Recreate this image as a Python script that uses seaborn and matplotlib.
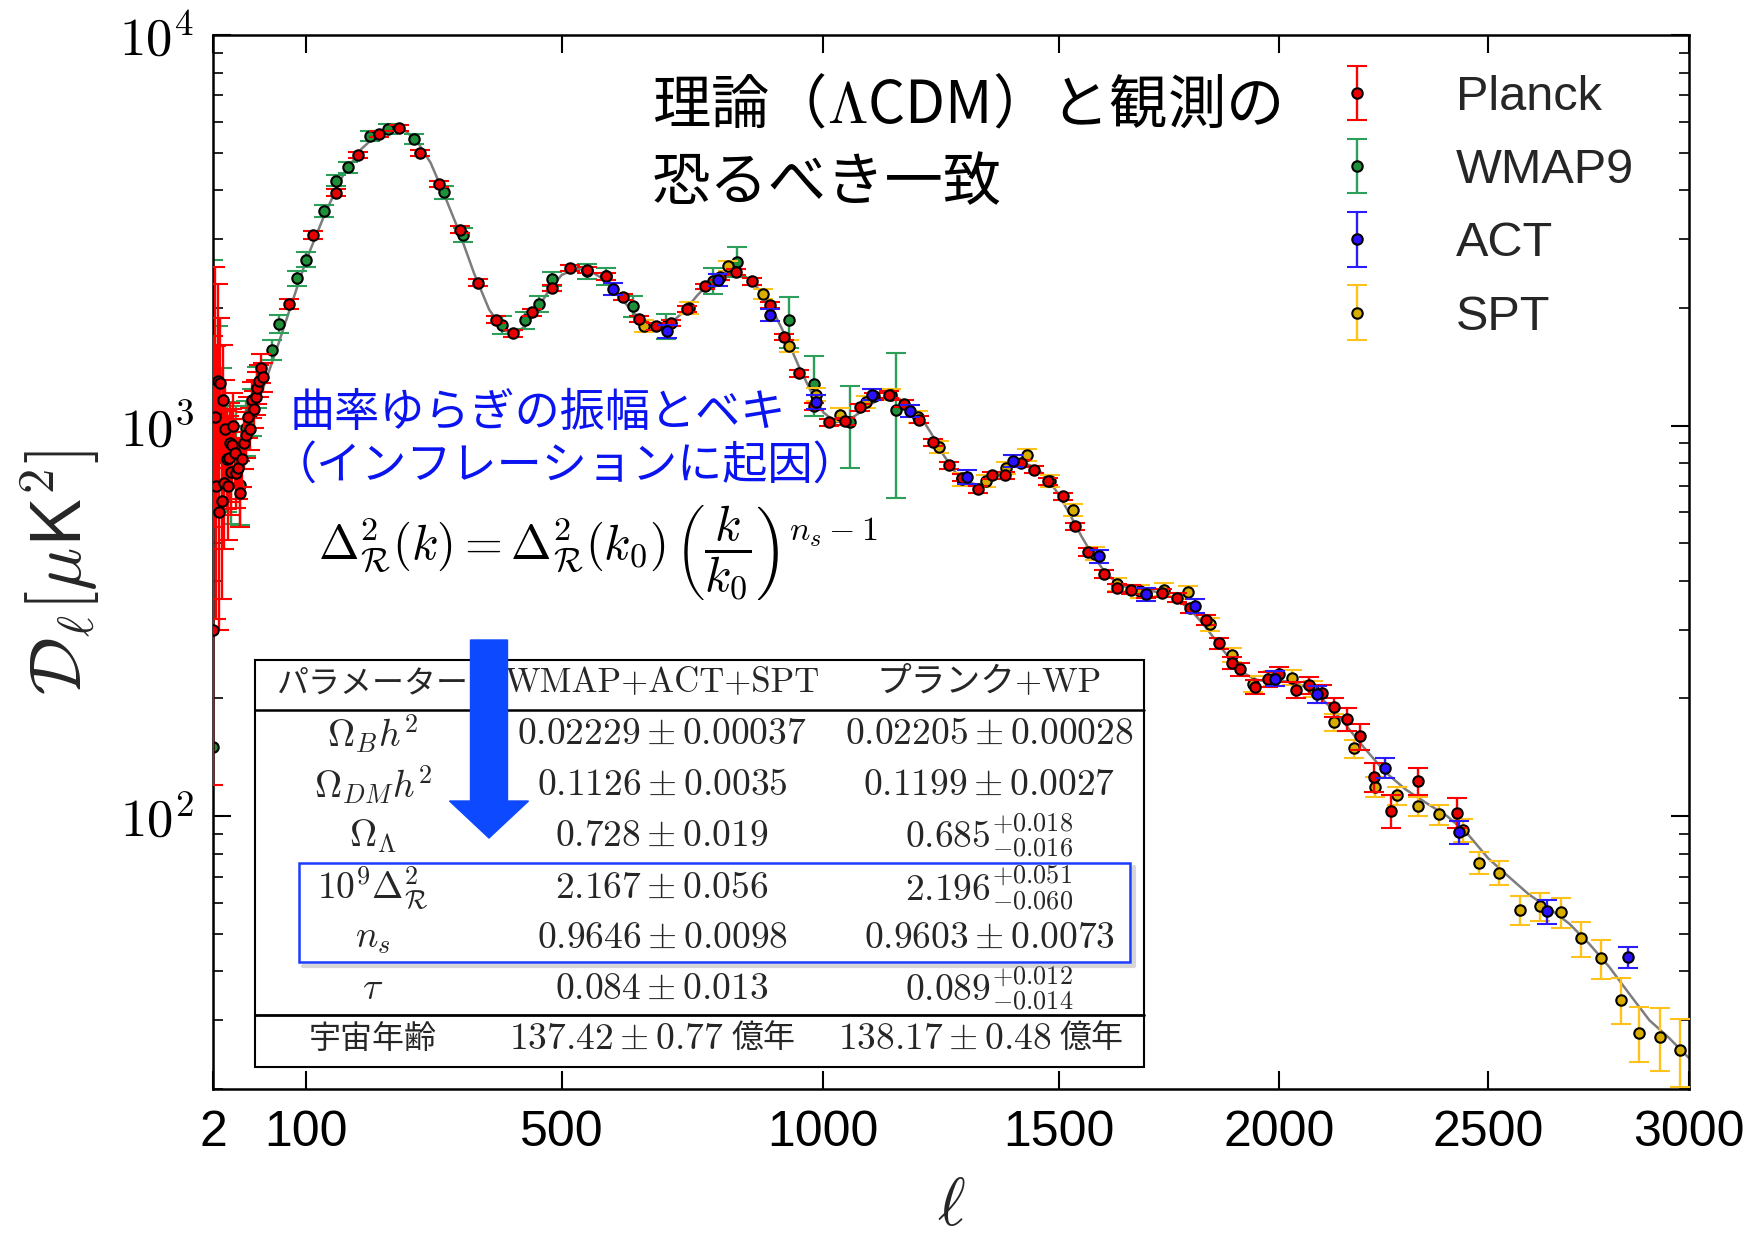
import numpy as np
import matplotlib
matplotlib.use("Agg")
import matplotlib.pyplot as plt
import seaborn as sns
from matplotlib import patches
from matplotlib.container import ErrorbarContainer
from matplotlib.legend_handler import HandlerErrorbar
from matplotlib.ticker import FixedLocator, NullLocator, NullFormatter, LogLocator

# ---------------- data ----------------
# Planck, unbinned low multipoles (asymmetric errors)
PLANCK_LOWL_L = [2, 3, 4, 5, 6, 7, 8, 9, 10, 11, 12, 13, 14, 15, 16, 17, 18, 19, 20,
                 22, 24, 26, 28, 30, 32, 34, 36, 38, 40, 42, 44, 46, 48]
PLANCK_LOWL_D = [300, 1050, 700, 1300, 600, 1285, 640, 1160, 713, 980, 820, 700, 826, 900,
                 760, 893, 1000, 850, 755, 780, 671, 820, 900, 946, 1050, 980, 1164, 1100,
                 1180, 1250, 1300, 1403, 1330]
PLANCK_LOWL_ELO = [180, 500, 380, 600, 300, 480, 280, 380, 230, 280, 210, 190, 190, 200,
                   170, 180, 180, 160, 140, 130, 120, 125, 125, 120, 120, 115, 120, 115,
                   115, 115, 115, 120, 110]
PLANCK_LOWL_EHI = [1400, 1500, 900, 1000, 500, 600, 400, 450, 330, 330, 270, 230, 230, 240,
                   200, 210, 210, 190, 165, 150, 140, 140, 140, 135, 135, 130, 130, 125,
                   125, 125, 125, 125, 120]

# Planck, binned
PLANCK_L = [78, 109, 139, 170, 201, 231, 263, 293, 327, 357, 387, 416, 448, 483, 514, 545,
            580, 611, 641, 672, 700, 731, 765, 795, 826, 857, 893, 920, 950, 980, 1011,
            1045, 1075, 1103, 1135, 1166, 1197, 1228, 1261, 1289, 1323, 1354, 1383, 1416,
            1446, 1477, 1509, 1535, 1565, 1600, 1630, 1660, 1695, 1730, 1765, 1795, 1830,
            1860, 1890, 1910, 1945, 1975, 2000, 2040, 2070, 2100, 2130, 2160, 2190, 2225,
            2265, 2330, 2425]
PLANCK_D = [2047, 3076, 3945, 4931, 5580, 5780, 5000, 4160, 3170, 2323, 1866, 1722, 1950,
            2249, 2530, 2500, 2410, 2133, 1872, 1795, 1828, 1986, 2270, 2400, 2478, 2338,
            2037, 1683, 1362, 1119, 1019, 1026, 1114, 1188, 1200, 1138, 1035, 906, 791,
            735, 686, 745, 745, 801, 771, 720, 659, 552, 474, 416, 384, 380, 371, 373, 362,
            340, 318, 277, 247, 238, 214, 224, 231, 210, 216, 206, 190, 177, 160, 126, 103,
            123, 102]
PLANCK_ERR = [60, 70, 80, 90, 100, 100, 90, 80, 65, 50, 40, 35, 38, 42, 45, 45, 45, 40, 36,
              34, 34, 36, 40, 42, 44, 42, 38, 32, 27, 23, 21, 21, 22, 23, 23, 22, 20, 18,
              16, 15, 14, 15, 15, 16, 16, 15, 14, 12, 11, 10, 9.5, 9.5, 9.5, 9.5, 9.5, 9.5,
              9.5, 9, 9, 9, 9, 9.5, 10, 10, 10.5, 11, 11, 12, 12, 11, 10, 9.5, 9]

# WMAP9
WMAP_LOWL_L = [2, 5, 8, 12, 16, 20, 24, 30, 36, 42]
WMAP_LOWL_D = [150, 1100, 950, 850, 760, 900, 706, 986, 1080, 1250]
WMAP_LOWL_ELO = [135, 500, 350, 250, 200, 190, 150, 150, 140, 140]
WMAP_LOWL_EHI = [2500, 700, 450, 300, 240, 220, 170, 170, 160, 160]

WMAP_L = [58, 67, 88, 100, 124, 140, 156, 188, 214, 254, 301, 332, 397, 435, 460, 483,
          545, 580, 630, 690, 780, 827, 931, 980, 1055, 1150]
WMAP_D = [1563, 1824, 2384, 2661, 3540, 4240, 4583, 5520, 5742, 5420, 3963, 3078, 1807,
          1858, 2050, 2370, 2480, 2410, 2020, 1800, 2350, 2630, 1858, 1280, 1020, 1094]
WMAP_ERR = [90, 100, 110, 120, 130, 140, 150, 160, 170, 170, 150, 130, 95, 90, 95, 100,
            110, 120, 120, 130, 180, 230, 280, 225, 243, 441]

# ACT
ACT_L = [593, 692, 791, 893, 985, 1100, 1180, 1300, 1400, 1590, 1695, 1805, 1990, 2090,
         2250, 2430, 2644, 2847]
ACT_D = [2235, 1742, 2360, 1919, 1150, 1200, 1090, 740, 810, 463, 370, 345, 225, 205, 133,
         91, 57, 43.5]
ACT_ERR = [80, 70, 80, 70, 45, 40, 38, 30, 28, 18, 14, 14, 10, 10, 8, 6, 4, 2.8]

# SPT
SPT_L = [650, 735, 810, 878, 930, 985, 1033, 1088, 1140, 1196, 1240, 1290, 1340, 1385,
         1430, 1480, 1530, 1580, 1630, 1680, 1735, 1790, 1840, 1890, 1940, 1985, 2030,
         2080, 2130, 2178, 2228, 2280, 2330, 2380, 2440, 2478, 2527, 2578, 2628, 2679,
         2729, 2779, 2829, 2874, 2926, 2977]
SPT_D = [1800, 2000, 2560, 2173, 1596, 1200, 1067, 1150, 1200, 1050, 880, 730, 720, 780,
         841, 720, 607, 470, 392, 376, 380, 374, 310, 259, 218, 225, 226, 212, 174, 149,
         119, 113, 106, 101, 92, 76, 71.5, 57.5, 58.7, 56.7, 48.6, 43.2, 33.9, 27.9, 27.2,
         25.2]
SPT_ERR = [60, 70, 80, 70, 55, 45, 40, 40, 40, 38, 32, 28, 25, 27, 28, 25, 22, 18, 16, 14,
           14, 14, 12, 11, 10, 10, 10, 10, 9, 8, 7, 6, 6, 6, 6, 5, 5, 5, 5, 5, 5, 5, 4.5,
           4.5, 5, 5]

# best-fit LambdaCDM spectrum
THEORY_L = [2, 4, 7, 10, 15, 20, 30, 40, 50, 65, 80, 100, 125, 150, 175, 200, 220, 240,
            260, 280, 300, 325, 350, 375, 400, 420, 440, 460, 480, 500, 525, 550, 575, 600,
            625, 650, 675, 700, 725, 750, 775, 800, 825, 850, 875, 900, 925, 950, 975, 1000,
            1025, 1050, 1075, 1100, 1125, 1150, 1175, 1200, 1225, 1250, 1275, 1300, 1325,
            1350, 1375, 1400, 1425, 1450, 1475, 1500, 1525, 1550, 1575, 1600, 1625, 1650,
            1675, 1700, 1725, 1750, 1775, 1800, 1825, 1850, 1875, 1900, 1925, 1950, 1975,
            2000, 2025, 2050, 2075, 2100, 2125, 2150, 2175, 2200, 2250, 2300, 2350, 2400,
            2450, 2500, 2550, 2600, 2650, 2700, 2750, 2800, 2850, 2900, 2950, 3000]
THEORY_D = [1050, 900, 820, 790, 800, 840, 950, 1100, 1280, 1600, 2000, 2650, 3500, 4400,
            5100, 5600, 5780, 5700, 5300, 4700, 3950, 3150, 2450, 1980, 1750, 1720, 1820,
            2020, 2250, 2430, 2520, 2490, 2370, 2180, 1980, 1830, 1780, 1830, 1960, 2150,
            2330, 2450, 2470, 2380, 2200, 1950, 1680, 1420, 1220, 1080, 1020, 1030, 1080,
            1140, 1180, 1180, 1140, 1060, 950, 840, 760, 715, 705, 725, 760, 790, 800, 780,
            730, 665, 590, 520, 465, 425, 398, 385, 380, 378, 374, 366, 352, 333, 310, 285,
            262, 243, 230, 223, 221, 222, 221, 217, 210, 200, 188, 175, 162, 150, 130, 117,
            108, 100, 90, 78, 70, 63, 58, 53, 47, 41, 35, 30, 27, 24]

XTICKS = [2, 100, 500, 1000, 1500, 2000, 2500, 3000]
XTICK_LABELS = ["2", "100", "500", "1000", "1500", "2000", "2500", "3000"]
YTICKS = [100, 1000, 10000]
YTICK_LABELS = [r"$10^{2}$", r"$10^{3}$", r"$10^{4}$"]
LEGEND_LABELS = ["Planck", "WMAP9", "ACT", "SPT"]

TITLE_LINES = ["理論（$\\Lambda$CDM）と観測の", "恐るべき一致"]
NOTE_LINES = ["曲率ゆらぎの振幅とベキ", "（インフレーションに起因）"]
FORMULA = (r"$\Delta^2_{\mathcal{R}}(k) = \Delta^2_{\mathcal{R}}(k_0)\,"
           r"\left(\dfrac{k}{k_0}\right)^{n_s-1}$")

TABLE_HEAD = ["パラメーター", "WMAP+ACT+SPT", "プランク+WP"]
TABLE_PARAMS = [r"$\Omega_B h^2$", r"$\Omega_{DM} h^2$", r"$\Omega_\Lambda$",
                r"$10^9\Delta^2_{\mathcal{R}}$", r"$n_s$", r"$\tau$"]
TABLE_WMAP = [r"$0.02229 \pm 0.00037$", r"$0.1126 \pm 0.0035$", r"$0.728 \pm 0.019$",
              r"$2.167 \pm 0.056$", r"$0.9646 \pm 0.0098$", r"$0.084 \pm 0.013$"]
TABLE_PLANCK = [r"$0.02205 \pm 0.00028$", r"$0.1199 \pm 0.0027$",
                r"$0.685^{+0.018}_{-0.016}$", r"$2.196^{+0.051}_{-0.060}$",
                r"$0.9603 \pm 0.0073$", r"$0.089^{+0.012}_{-0.014}$"]
AGE_LABEL = "宇宙年齢"
AGE_WMAP = r"$137.42 \pm 0.77$"
AGE_PLANCK = r"$138.17 \pm 0.48$"
AGE_UNIT = "億年"

# ---------------- style ----------------
sns.set_theme(style="ticks")
plt.rcParams["font.family"] = ["DejaVu Sans", "Noto Sans CJK JP"]
plt.rcParams["mathtext.fontset"] = "cm"

W, H = 1762, 1239
fig = plt.figure(figsize=(W / 100, H / 100), dpi=100)
fig.patch.set_facecolor("white")
ax = fig.add_axes([213 / W, 150 / H, 1476 / W, 1054 / H])
ax.set_facecolor("white")

sns.lineplot(x=THEORY_L, y=THEORY_D, ax=ax, color="#7d7d7d", linewidth=1.8,
             zorder=1, legend=False)

common = dict(fmt="o", ms=7.5, mec="black", mew=1.5, elinewidth=1.7, capsize=7.5,
              capthick=1.7)

ax.errorbar(WMAP_LOWL_L, WMAP_LOWL_D, yerr=[WMAP_LOWL_ELO, WMAP_LOWL_EHI],
            mfc="#1f8f3a", ecolor="#2ca05a", zorder=2, **common)
h_wmap = ax.errorbar(WMAP_L, WMAP_D, yerr=WMAP_ERR, mfc="#1f8f3a", ecolor="#2ca05a",
                     zorder=2, **common)
h_spt = ax.errorbar(SPT_L, SPT_D, yerr=SPT_ERR, mfc="#d9ad00", ecolor="#ffc21a",
                    zorder=3, **common)
ax.errorbar(PLANCK_LOWL_L, PLANCK_LOWL_D, yerr=[PLANCK_LOWL_ELO, PLANCK_LOWL_EHI],
            mfc="#e80000", ecolor="#ff0000", zorder=4, **common)
h_planck = ax.errorbar(PLANCK_L, PLANCK_D, yerr=PLANCK_ERR, mfc="#e80000",
                       ecolor="#ff0000", zorder=4, **common)
h_act = ax.errorbar(ACT_L, ACT_D, yerr=ACT_ERR, mfc="#2a10ff", ecolor="#2b1bff",
                    zorder=5, **common)

# multipole axis: power-law stretched, D_l axis: logarithmic
ax.set_xscale("function", functions=(lambda x: np.sign(x) * np.abs(x) ** 0.8,
                                     lambda y: np.sign(y) * np.abs(y) ** 1.25))
ax.set_yscale("log")
ax.set_xlim(2, 3000)
ax.set_ylim(20, 1e4)

ax.xaxis.set_major_locator(FixedLocator(XTICKS))
ax.xaxis.set_minor_locator(NullLocator())
ax.set_xticklabels(XTICK_LABELS, fontfamily="Liberation Sans", fontsize=36)
ax.yaxis.set_major_locator(FixedLocator(YTICKS))
ax.set_yticklabels(YTICK_LABELS, fontsize=38)
ax.yaxis.set_minor_locator(LogLocator(base=10, subs=np.arange(2, 10), numticks=30))
ax.yaxis.set_minor_formatter(NullFormatter())

ax.tick_params(which="major", direction="in", length=13, width=1.5, top=True,
               right=True, colors="black")
ax.tick_params(axis="x", which="major", pad=15)
ax.tick_params(axis="y", which="major", pad=14)
ax.tick_params(which="minor", direction="in", length=7, width=1.2, right=True,
               colors="black")
for sp in ax.spines.values():
    sp.set_linewidth(1.8)
    sp.set_color("black")

ax.set_xlabel(r"$\ell$", fontsize=48)
ax.xaxis.set_label_coords(0.5, -0.08)
ax.set_ylabel(r"$\mathcal{D}_\ell[\mu\mathsf{K}^2]$", fontsize=52)
ax.yaxis.set_label_coords(-0.075, 0.49)

ax.legend([h_planck, h_wmap, h_act, h_spt], LEGEND_LABELS, loc="upper left",
          bbox_to_anchor=(0.755, 0.962), frameon=False,
          prop={"family": "Liberation Sans", "size": 35}, handlelength=1.2,
          handletextpad=1.45, labelspacing=0.58, borderpad=0, borderaxespad=0,
          numpoints=1,
          handler_map={ErrorbarContainer: HandlerErrorbar(xerr_size=0.5,
                                                          yerr_size=0.56)})

# ---------------- annotations (pixel overlay) ----------------
ov = fig.add_axes([0, 0, 1, 1], zorder=10)
ov.set_xlim(0, W)
ov.set_ylim(H, 0)
ov.set_axis_off()
ov.patch.set_alpha(0)

cjk = "Noto Sans CJK JP"
ov.text(652, 107, TITLE_LINES[0], fontsize=42, family=cjk, ha="left", va="center",
        color="black")
ov.text(652, 184, TITLE_LINES[1], fontsize=42, family=cjk, ha="left", va="center",
        color="black")

ov.text(290, 413, NOTE_LINES[0], fontsize=32.5, family=cjk, ha="left", va="center",
        color="#0a14f0")
ov.text(272, 466, NOTE_LINES[1], fontsize=32.5, family=cjk, ha="left", va="center",
        color="#0a14f0")
ov.text(318, 553, FORMULA, fontsize=35, ha="left", va="center", color="black")

# parameter table
t_left, t_right, t_top, t_bot = 255, 1144, 660, 1067
ov.add_patch(patches.Rectangle((t_left, t_top), t_right - t_left, t_bot - t_top,
                               fc="white", ec="black", lw=1.5, zorder=1))
ov.plot([t_left, t_right], [710, 710], color="black", lw=1.8, zorder=2)
ov.plot([t_left, t_right], [1015, 1015], color="black", lw=2.0, zorder=2)

col_x = [373, 662, 989]
row_y = [734, 785, 836, 888, 938, 989]
ov.text(col_x[0], 683, TABLE_HEAD[0], fontsize=23, family=cjk, ha="center",
        va="center", zorder=3)
ov.text(col_x[1], 683, TABLE_HEAD[1], fontsize=25, family=["cmr10", cjk], ha="center",
        va="center", zorder=3)
ov.text(col_x[2], 683, TABLE_HEAD[2], fontsize=25, family=["cmr10", cjk], ha="center",
        va="center", zorder=3)
for y, p, a, b in zip(row_y, TABLE_PARAMS, TABLE_WMAP, TABLE_PLANCK):
    ov.text(col_x[0], y, p, fontsize=27, ha="center", va="center", zorder=3)
    ov.text(col_x[1], y, a, fontsize=27, ha="center", va="center", zorder=3)
    ov.text(col_x[2], y, b, fontsize=27, ha="center", va="center", zorder=3)
ov.text(col_x[0], 1039, AGE_LABEL, fontsize=23, family=cjk, ha="center", va="center",
        zorder=3)
ov.text(724, 1039, AGE_WMAP, fontsize=27, ha="right", va="center", zorder=3)
ov.text(732, 1039, AGE_UNIT, fontsize=23, family=cjk, ha="left", va="center", zorder=3)
ov.text(1051, 1039, AGE_PLANCK, fontsize=27, ha="right", va="center", zorder=3)
ov.text(1059, 1039, AGE_UNIT, fontsize=23, family=cjk, ha="left", va="center", zorder=3)

# highlighted rows
ov.plot([303, 1134, 1134], [966, 966, 867], color="0.55", lw=3, alpha=0.35, zorder=3)
ov.add_patch(patches.Rectangle((299, 863), 831, 99, fill=False, ec="#1a3cff", lw=1.8,
                               zorder=4))

# downward arrow
ov.add_patch(patches.FancyArrow(489, 640, 0, 198, width=37, head_width=79,
                                head_length=37, length_includes_head=True,
                                color="#0d4aff", zorder=5))

fig.savefig("out.png", dpi=100, facecolor="white")
